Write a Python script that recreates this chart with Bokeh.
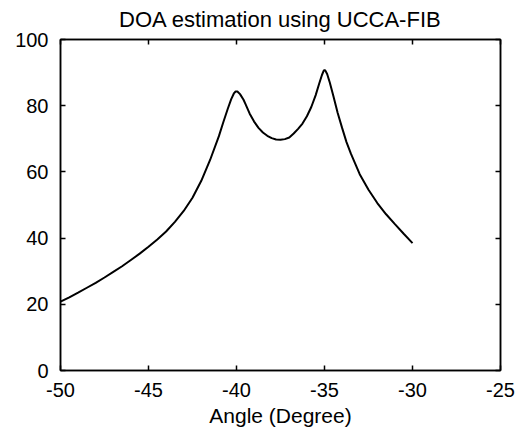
from bokeh.plotting import figure
from bokeh.models import Range1d, FixedTicker, LinearAxis, CustomLabelingPolicy
from bokeh.embed import file_html
from bokeh.resources import INLINE

# ---- data ----
angle = [-50, -49.5, -49, -48.5, -48, -47.5, -47, -46.5, -46, -45.5, -45, -44.5,
         -44, -43.5, -43, -42.5, -42, -41.5, -41, -40.75, -40.5, -40.3, -40.15,
         -40.05, -39.95, -39.8, -39.6, -39.5, -39.25, -39, -38.75, -38.5, -38.25,
         -38, -37.75, -37.5, -37.25, -37, -36.75, -36.5, -36.25, -36, -35.75,
         -35.5, -35.3, -35.15, -35.05, -35.0, -34.95, -34.85, -34.7, -34.5,
         -34.25, -34, -33.75, -33.5, -33.25, -33, -32.5, -32, -31.5, -31, -30.5, -30]
power = [20.8, 22.1, 23.5, 25.0, 26.5, 28.1, 29.8, 31.5, 33.4, 35.3, 37.4, 39.6,
         42.0, 44.9, 48.2, 52.2, 57.3, 63.6, 70.8, 75.0, 79.0, 82.0, 83.7,
         84.3, 84.3, 83.5, 81.8, 80.6, 77.6, 75.2, 73.3, 71.9, 70.9,
         70.2, 69.8, 69.7, 69.9, 70.4, 71.6, 73.0, 74.6, 76.8, 79.6,
         83.2, 86.7, 89.2, 90.5, 90.8, 90.6, 89.6, 87.0, 83.0,
         77.8, 73.3, 69.0, 65.5, 62.4, 59.3, 54.6, 50.6, 47.2, 44.2, 41.3, 38.5]

x_ticks = [-50, -45, -40, -35, -30, -25]
x_tick_labels = ["-50", "-45", "-40", "-35", "-30", "-25"]
y_ticks = [0, 20, 40, 60, 80, 100]
y_tick_labels = ["0", "20", "40", "60", "80", "100"]

title_text = "DOA estimation using UCCA-FIB"
x_label = "Angle (Degree)"

FONT = "Liberation Sans"

p = figure(width=521, height=432, output_backend="svg", toolbar_location=None,
           x_range=Range1d(-50, -25), y_range=Range1d(0, 100),
           min_border_left=60, min_border_right=21, min_border_top=39,
           min_border_bottom=62, title=title_text)

p.title.text_font = FONT
p.title.text_font_size = "22px"
p.title.text_font_style = "normal"
p.title.align = "center"
p.title.text_color = "black"
p.title.standoff = 7

p.grid.visible = False
p.background_fill_color = "white"
p.border_fill_color = "white"
p.outline_line_color = "black"
p.outline_line_width = 1.5

p.line(angle, power, line_color="black", line_width=2)


def style_axis(ax, ticks, labels, show_labels=True):
    ax.ticker = FixedTicker(ticks=ticks)
    ax.major_label_overrides = {t: l for t, l in zip(ticks, labels)}
    ax.major_tick_in = 5
    ax.major_tick_out = 0
    ax.minor_tick_in = 0
    ax.minor_tick_out = 0
    ax.major_tick_line_color = "black"
    ax.major_tick_line_width = 1.5
    ax.axis_line_color = "black"
    ax.axis_line_width = 1.5
    ax.major_label_text_font = FONT
    ax.major_label_text_color = "black"
    if show_labels:
        ax.major_label_text_font_size = "20px"
    else:
        ax.major_label_text_font_size = "1px"
        ax.major_label_standoff = 0
        ax.major_label_policy = CustomLabelingPolicy(
            code="return new indices.constructor(indices.size)")


style_axis(p.xaxis[0], x_ticks, x_tick_labels)
style_axis(p.yaxis[0], y_ticks, y_tick_labels)
p.xaxis[0].major_label_standoff = 12
p.yaxis[0].major_label_standoff = 12
p.xaxis[0].axis_label = x_label
p.xaxis[0].axis_label_text_font = FONT
p.xaxis[0].axis_label_text_font_size = "21px"
p.xaxis[0].axis_label_text_font_style = "normal"
p.xaxis[0].axis_label_text_color = "black"
p.xaxis[0].axis_label_standoff = 4

top_ax = LinearAxis()
style_axis(top_ax, x_ticks, x_tick_labels, show_labels=False)
p.add_layout(top_ax, "above")
right_ax = LinearAxis()
style_axis(right_ax, y_ticks, y_tick_labels, show_labels=False)
p.add_layout(right_ax, "right")

open("out.html", "w").write(file_html(p, INLINE))
